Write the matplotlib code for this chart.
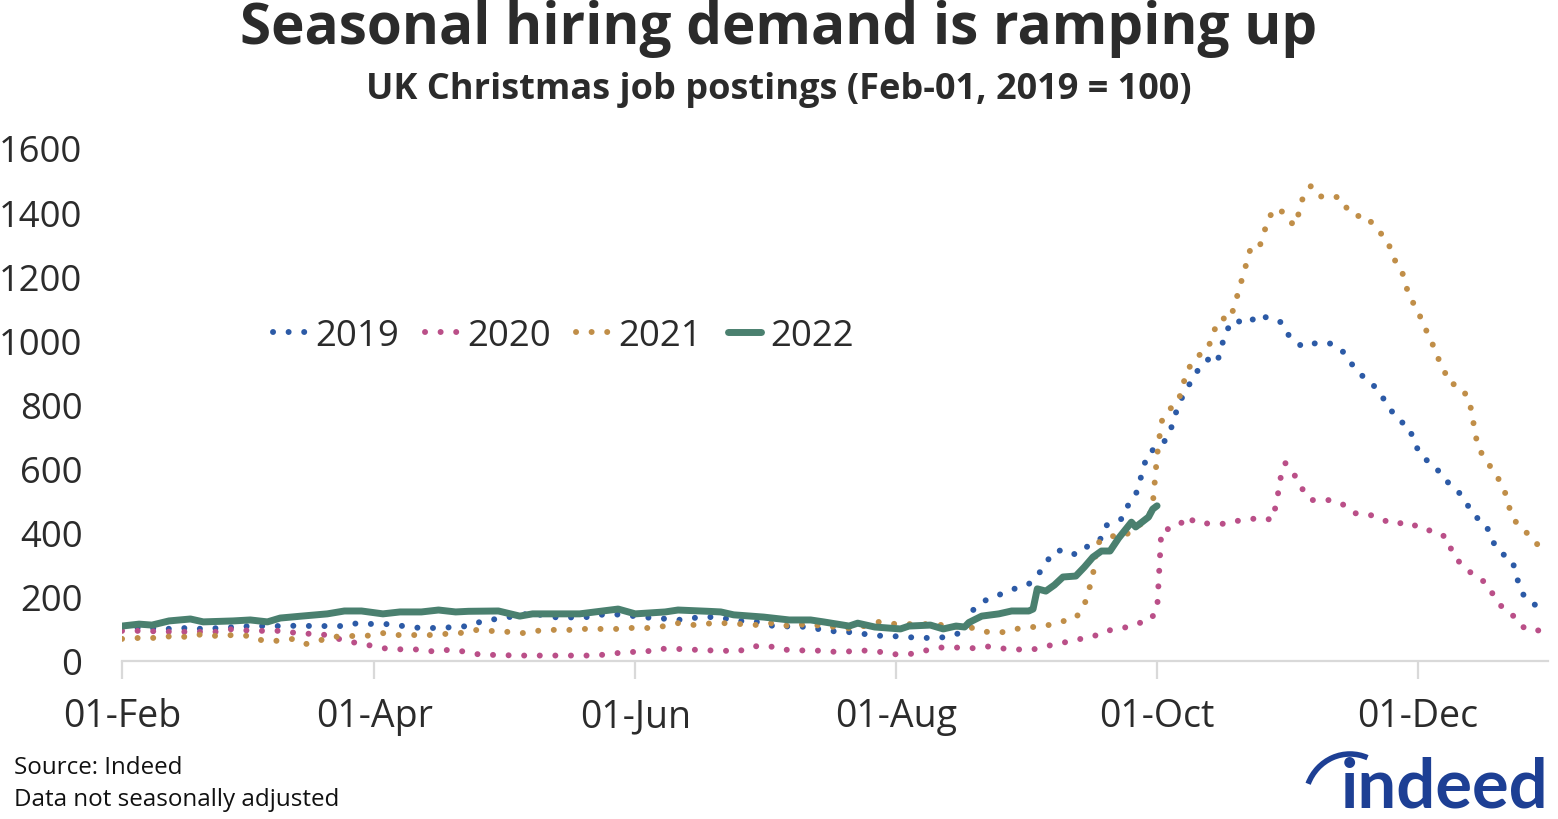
import matplotlib
matplotlib.use("Agg")
import matplotlib.pyplot as plt
from matplotlib.patches import Arc

plt.rcParams['font.family'] = ['Open Sans', 'DejaVu Sans']

# ---- data: day offsets from 01-Feb, index (Feb-01, 2019 = 100) ----
days_2019 = [0, 12, 15, 19, 23, 30, 34, 37, 41, 45, 48, 52, 55, 59, 63, 67, 70, 74, 78, 81, 85, 88, 96, 99,
             103, 106, 110, 113, 117, 124, 128, 131, 135, 138, 142, 146, 149, 153, 157, 160, 164, 168, 171,
             175, 179, 182, 186, 190, 193, 196, 198, 199, 202, 205, 209, 212, 214, 216, 218, 221, 223, 226,
             229, 230, 234, 235, 237, 238, 239, 240, 243, 245, 246, 248, 250, 252, 254, 256, 257, 258, 260,
             263, 266, 269, 271, 273, 276, 279, 282, 285, 287, 289, 292, 294, 296, 298, 301, 302, 304, 307,
             309, 312, 314, 316, 319, 320, 322, 325, 326, 327, 329, 332]
vals_2019 = [105, 100, 103, 100, 103, 109, 109, 109, 110, 109, 109, 109, 118, 115, 115, 106, 103, 103, 106, 109,
             128, 131, 150, 140, 134, 137, 137, 147, 144, 134, 131, 128, 137, 137, 131, 122, 122, 106, 109, 106,
             97, 90, 90, 81, 77, 77, 72, 72, 75, 88, 106, 159, 190, 206, 227, 240, 265, 306, 343, 346, 331,
             360, 383, 422, 445, 481, 518, 562, 612, 651, 671, 711, 761, 827, 873, 917, 941, 929, 976, 1026,
             1064, 1051, 1082, 1061, 1057, 1011, 980, 991, 993, 973, 936, 899, 870, 836, 798, 755, 730, 683,
             636, 608, 568, 536, 500, 455, 424, 384, 340, 316, 268, 218, 184, 165]

days_2020 = [0, 4, 12, 22, 26, 30, 34, 37, 41, 45, 48, 52, 55, 59, 62, 66, 70, 73, 77, 81, 84, 88, 92, 96, 100,
             103, 107, 110, 114, 118, 122, 125, 129, 133, 136, 140, 144, 147, 151, 154, 158, 162, 166, 169,
             173, 177, 180, 184, 188, 191, 195, 199, 202, 205, 209, 213, 216, 220, 223, 227, 230, 234, 237,
             240, 242, 243, 247, 249, 251, 255, 258, 260, 263, 266, 269, 270, 271, 272, 274, 276, 278, 282,
             285, 288, 291, 294, 297, 301, 304, 307, 310, 311, 313, 316, 319, 321, 323, 326, 328, 332]
vals_2020 = [94, 94, 91, 91, 100, 94, 94, 94, 87, 84, 81, 63, 56, 46, 38, 36, 36, 29, 36, 27, 19, 19, 17, 17, 17,
             17, 17, 17, 21, 29, 27, 38, 38, 36, 33, 33, 29, 45, 48, 36, 33, 33, 29, 29, 33, 29, 21, 21, 33,
             42, 42, 40, 46, 40, 36, 36, 46, 57, 66, 76, 94, 102, 117, 123, 157, 406, 420, 452, 431, 428,
             428, 436, 440, 447, 440, 500, 580, 617, 583, 536, 502, 502, 493, 461, 459, 446, 427, 433, 409,
             406, 382, 337, 303, 268, 243, 197, 162, 134, 100, 94]

days_2021 = [0, 4, 8, 12, 15, 19, 22, 26, 30, 33, 37, 40, 43, 46, 49, 53, 57, 61, 64, 68, 72, 75, 79, 83, 86,
             90, 94, 97, 100, 105, 108, 112, 116, 119, 123, 127, 130, 134, 138, 141, 145, 149, 152, 156, 160,
             164, 167, 171, 177, 181, 185, 188, 192, 196, 199, 202, 206, 209, 213, 216, 220, 223, 225, 226,
             227, 228, 231, 234, 237, 240, 241, 242, 243, 244, 247, 248, 249, 251, 254, 255, 257, 259, 260,
             261, 262, 263, 264, 266, 267, 268, 270, 272, 274, 275, 276, 278, 280, 281, 283, 285, 287, 289,
             291, 293, 294, 296, 297, 299, 300, 301, 303, 304, 306, 307, 309, 310, 313, 315, 316, 317, 319,
             321, 323, 324, 325, 327, 330, 332]
vals_2021 = [69, 72, 72, 78, 75, 84, 78, 81, 78, 63, 63, 69, 53, 63, 75, 78, 78, 87, 81, 81, 81, 84, 87, 97, 94,
             91, 87, 94, 97, 97, 100, 100, 100, 103, 103, 109, 118, 112, 118, 118, 115, 112, 118, 109, 115,
             109, 106, 100, 122, 115, 115, 115, 112, 106, 103, 91, 90, 100, 106, 110, 124, 134, 175, 218,
             268, 367, 390, 387, 415, 445, 490, 640, 745, 773, 811, 858, 905, 945, 976, 1023, 1070, 1064,
             1104, 1151, 1198, 1245, 1294, 1294, 1335, 1382, 1413, 1394, 1357, 1391, 1441, 1482, 1450, 1447,
             1450, 1444, 1397, 1388, 1388, 1351, 1338, 1310, 1260, 1226, 1182, 1132, 1098, 1051, 1008, 961,
             914, 870, 855, 814, 740, 667, 624, 586, 542, 496, 449, 415, 383, 340]

days_2022 = [0, 4, 7, 11, 16, 19, 26, 30, 34, 37, 42, 48, 52, 56, 61, 65, 70, 74, 78, 81, 88, 93, 96, 100, 107,
             116, 120, 127, 130, 137, 140, 143, 150, 156, 161, 164, 170, 172, 176, 182, 184, 189, 192, 195,
             197, 198, 201, 205, 208, 212, 213, 214, 216, 218, 220, 223, 225, 227, 229, 231, 233, 236, 237,
             240, 241, 242]
vals_2022 = [109, 115, 112, 125, 131, 122, 125, 128, 122, 134, 140, 147, 156, 156, 147, 153, 153, 159, 153, 155,
             156, 140, 147, 147, 147, 162, 147, 153, 159, 155, 153, 144, 137, 128, 128, 122, 109, 118, 106,
             100, 109, 112, 100, 109, 106, 120, 140, 147, 156, 156, 162, 225, 218, 237, 262, 265, 293, 324,
             343, 343, 383, 433, 418, 449, 474, 484]

tick_days = [0, 59, 120, 181, 242, 303]
tick_labels = ['01-Feb', '01-Apr', '01-Jun', '01-Aug', '01-Oct', '01-Dec']
y_ticks = [0, 200, 400, 600, 800, 1000, 1200, 1400, 1600]

c19, c20, c21, c22 = '#2C5AA6', '#BA4F88', '#C08E48', '#4A806F'
text_col = '#2B2B2B'

W, H = 1558, 820
fig = plt.figure(figsize=(W / 100, H / 100), dpi=100)
ax = fig.add_axes([122 / W, (H - 662) / H, 1426 / W, 513 / H])

dot_lw = 4.3
dot_style = (0, (0.01, 2.6))
for d, v, c, lab in [(days_2019, vals_2019, c19, '2019'),
                     (days_2020, vals_2020, c20, '2020'),
                     (days_2021, vals_2021, c21, '2021')]:
    ax.plot(d, v, color=c, lw=dot_lw, linestyle=dot_style, dash_capstyle='round',
            solid_capstyle='round', label=lab)
ax.plot(days_2022, vals_2022, color=c22, lw=5, solid_capstyle='round',
        solid_joinstyle='round', label='2022')

ax.set_xlim(0, 333.4)
ax.set_ylim(0, 1600)
ax.set_xticks(tick_days)
ax.set_xticklabels(tick_labels)
ax.set_yticks(y_ticks)
ax.set_yticklabels([str(t) for t in y_ticks])

for s in ['top', 'right', 'left']:
    ax.spines[s].set_visible(False)
ax.spines['bottom'].set_color('#D9D9D9')
ax.spines['bottom'].set_linewidth(1.6)
ax.tick_params(axis='x', direction='out', length=13, width=1.6, color='#D9D9D9',
               labelsize=27, labelcolor=text_col, pad=13)
ax.tick_params(axis='y', length=0, labelsize=26.2, labelcolor=text_col, pad=28.5)

leg = ax.legend(loc='center left', bbox_to_anchor=(0.1059, 0.633), ncol=4, frameon=False,
                fontsize=26.4, handlelength=0.9, handletextpad=0.25, columnspacing=0.7,
                borderpad=0, borderaxespad=0, labelcolor=text_col)

fig.text(0.5, 1 - 29 / H, 'Seasonal hiring demand is ramping up', ha='center', va='center',
         fontsize=40.8, fontweight='bold', color=text_col)
fig.text(0.5, 1 - 90 / H, 'UK Christmas job postings (Feb-01, 2019 = 100)', ha='center', va='center',
         fontsize=26, fontweight='bold', color=text_col)
fig.text(14 / W, 1 - 768 / H, 'Source: Indeed', ha='left', va='center', fontsize=17.4, color='#111111')
fig.text(14 / W, 1 - 800 / H, 'Data not seasonally adjusted', ha='left', va='center', fontsize=17.4,
         color='#111111')

# indeed logo
logo_col = '#1D3F94'
fig.text(1549 / W, 1 - 808 / H, 'indeed', ha='right', va='baseline', fontsize=49.5, fontweight='bold',
         color=logo_col, family='Lato')
arc = Arc((1350 / W, 1 - 802 / H), 90 / W, 94 / H, theta1=78, theta2=142, transform=fig.transFigure,
          color=logo_col, lw=4)
fig.add_artist(arc)

fig.savefig('out.png', dpi=100)
